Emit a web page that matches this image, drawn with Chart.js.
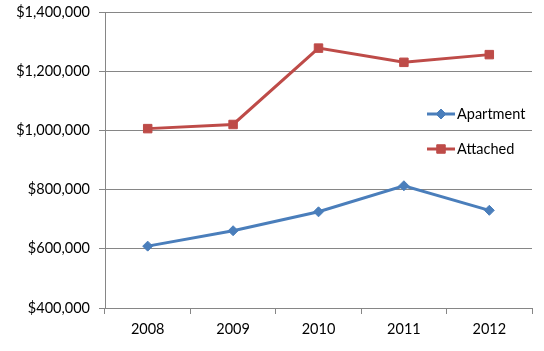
<!DOCTYPE html>
<html>
<head>
<meta charset="utf-8">
<script src="https://cdn.jsdelivr.net/npm/chart.js@4"></script>
<style>
html,body{margin:0;padding:0;background:#fff;}
#wrap{width:544px;height:351px;position:relative;}
</style>
</head>
<body>
<div id="wrap"><canvas id="c" width="544" height="351"></canvas></div>
<script>
const years = ['2008', '2009', '2010', '2011', '2012'];
const apartment = [609000, 661000, 725000, 813000, 730000];
const attached = [1006000, 1020000, 1278000, 1230000, 1256000];
const yTicks = [400000, 600000, 800000, 1000000, 1200000, 1400000];

const FONT = "Lato, 'Liberation Sans', sans-serif";
const FSIZE = 14.5;
const GRID = '#868686';

const legendPlugin = {
  id: 'insideLegend',
  afterDatasetsDraw(chart) {
    const ctx = chart.ctx;
    const items = [
      {ds: chart.data.datasets[0], y: 114},
      {ds: chart.data.datasets[1], y: 149}
    ];
    ctx.save();
    items.forEach(it => {
      const x0 = 427, x1 = 455;
      ctx.strokeStyle = it.ds.borderColor;
      ctx.lineWidth = 3;
      ctx.beginPath(); ctx.moveTo(x0, it.y); ctx.lineTo(x1, it.y); ctx.stroke();
      ctx.fillStyle = it.ds.borderColor;
      ctx.strokeStyle = it.ds.borderColor;
      ctx.lineWidth = 1;
      Chart.helpers.drawPoint(ctx, {pointStyle: it.ds.pointStyle, radius: it.ds.pointRadius, borderWidth: 1}, (x0 + x1) / 2, it.y);
      ctx.fillStyle = '#000';
      ctx.font = FSIZE + 'px ' + FONT;
      ctx.textBaseline = 'middle';
      ctx.textAlign = 'left';
      ctx.fillText(it.ds.label, 457, it.y);
    });
    ctx.restore();
  }
};

new Chart(document.getElementById('c'), {
  type: 'line',
  data: {
    labels: years,
    datasets: [
      {label: 'Apartment', data: apartment, borderColor: '#4A7EBB', backgroundColor: '#4A7EBB',
       borderWidth: 3, pointStyle: 'rectRot', pointRadius: 5, pointBorderWidth: 1, tension: 0},
      {label: 'Attached', data: attached, borderColor: '#BE4B48', backgroundColor: '#BE4B48',
       borderWidth: 3, pointStyle: 'rect', pointRadius: 6, pointBorderWidth: 1, tension: 0}
    ]
  },
  plugins: [legendPlugin],
  options: {
    responsive: false,
    animation: false,
    layout: {padding: {top: 12, right: 12, left: 0, bottom: 0}},
    plugins: {legend: {display: false}, tooltip: {enabled: false}},
    scales: {
      x: {
        offset: true,
        grid: {offset: true, drawOnChartArea: false, color: GRID, tickLength: 6},
        border: {display: true, color: GRID},
        ticks: {color: '#000', font: {family: FONT, size: FSIZE}, padding: 7, maxRotation: 0},
        afterFit(s) { s.height = 43; s.paddingLeft = 0; s.paddingRight = 0; }
      },
      y: {
        min: 400000, max: 1400000,
        afterBuildTicks(s) { s.ticks = yTicks.map(v => ({value: v})); },
        grid: {color: GRID, tickLength: 6},
        border: {display: true, color: GRID},
        ticks: {color: '#000', font: {family: FONT, size: FSIZE}, padding: 9,
          callback: v => '$' + v.toLocaleString('en-US')},
        afterFit(s) { s.width = 105; s.paddingTop = 0; s.paddingBottom = 0; }
      }
    }
  }
});
</script>
</body>
</html>
